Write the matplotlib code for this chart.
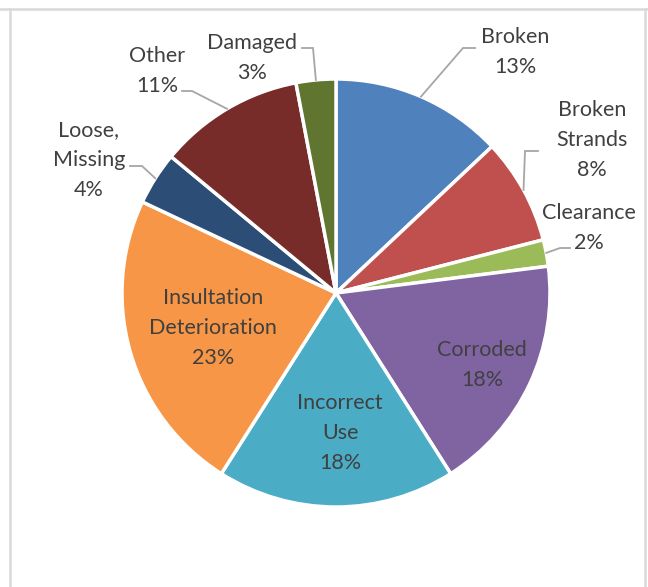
import numpy as np
import matplotlib
matplotlib.use("Agg")
from matplotlib import pyplot as plt
from matplotlib.lines import Line2D

# datos del grafico
labels = ["Broken", "Broken\nStrands", "Clearance", "Corroded", "Incorrect\nUse",
          "Insultation\nDeterioration", "Loose,\nMissing", "Other", "Damaged"]
values = [13, 8, 2, 18, 18, 23, 4, 11, 3]
colors = ["#4F81BD", "#C0504D", "#9BBB59", "#8064A2", "#4BACC6",
          "#F79646", "#2C4D75", "#772C2A", "#5F7530"]

W, H = 648, 587
def px(x, y):
    # coordenadas de pixel (y hacia abajo) a datos
    return x, H - y

# posicion del texto de cada etiqueta (pixeles) y codo de la linea guia
label_pos = [(515, 52), (592, 140), (589, 228), (482, 365), (340, 433),
             (213, 328), (89, 160), (157, 71), (252, 58)]
leaders = {0: [(475, 48), (463, 48)],
           1: [(538, 151), (525, 151)],
           2: [(570, 248), (560, 248)],
           6: [(130, 166), (142, 166)],
           7: [(182, 91), (192, 91)],
           8: [(302, 48), (313, 48)]}

plt.rcParams['font.family'] = ['Lato', 'DejaVu Sans']
fig = plt.figure(figsize=(W / 100, H / 100), dpi=100)
ax = fig.add_axes([0, 0, 1, 1])

cx, cy = px(336, 293)
R = 214
wedges, _ = ax.pie(values, colors=colors, startangle=90, counterclock=False,
                   center=(cx, cy), radius=R,
                   wedgeprops=dict(edgecolor="white", linewidth=2.5))
ax.set_xlim(0, W)
ax.set_ylim(0, H)
ax.axis("off")

for i, w in enumerate(wedges):
    lab = labels[i] + "\n" + str(values[i]) + "%"
    tx, ty = px(*label_pos[i])
    ax.text(tx, ty, lab, ha="center", va="center", multialignment="center",
            fontsize=15.5, color="#404040", linespacing=1.6)
    if i in leaders:
        ang = np.deg2rad((w.theta1 + w.theta2) / 2)
        ax_, ay_ = cx + R * np.cos(ang), cy + R * np.sin(ang)
        pts = [px(*p) for p in leaders[i]] + [(ax_, ay_)]
        xs = [p[0] for p in pts]
        ys = [p[1] for p in pts]
        ax.plot(xs, ys, color="#a6a6a6", lw=1.3, solid_joinstyle="miter")

# marco gris
for xs, ys in [([0, W], [H - 9, H - 9]), ([10, 10], [0, H - 9]), ([645, 645], [0, H - 9])]:
    fig.add_artist(Line2D(np.array(xs) / W, np.array(ys) / H, color="#d9d9d9", lw=1.8))

fig.savefig("out.png", dpi=100)
